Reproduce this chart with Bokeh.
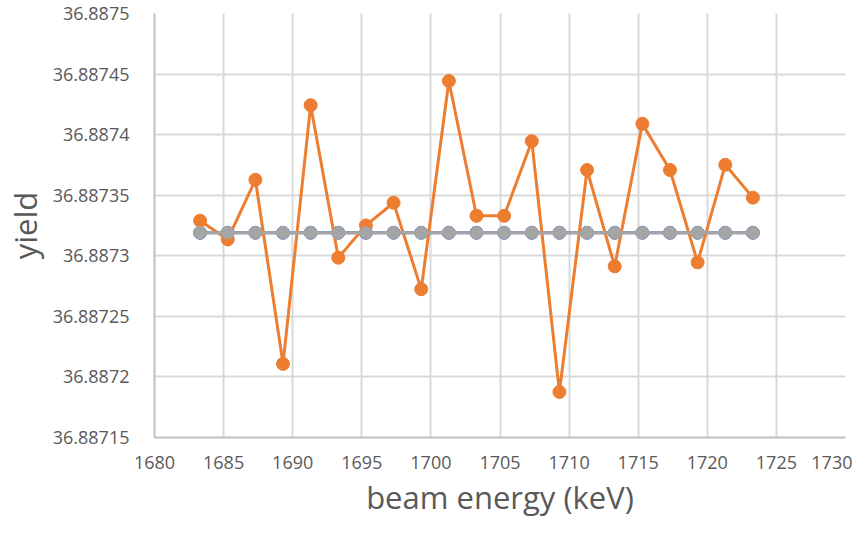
from bokeh.plotting import figure
from bokeh.models import FixedTicker, CustomJSTickFormatter, Range1d
from bokeh.embed import file_html
from bokeh.resources import INLINE

energy = [1683.3, 1685.3, 1687.3, 1689.3, 1691.3, 1693.3, 1695.3, 1697.3, 1699.3, 1701.3,
          1703.3, 1705.3, 1707.3, 1709.3, 1711.3, 1713.3, 1715.3, 1717.3, 1719.3, 1721.3, 1723.3]
yield_measured = [36.887329, 36.8873135, 36.8873627, 36.8872108, 36.8874243, 36.8872984,
                  36.8873251, 36.8873438, 36.8872724, 36.8874443, 36.887333, 36.887333,
                  36.8873946, 36.8871876, 36.8873708, 36.8872913, 36.8874089, 36.8873708,
                  36.8872946, 36.8873751, 36.887348]
yield_model = [36.887319] * len(energy)
yield_fit = [36.887319] * len(energy)
x_ticks = [1680, 1685, 1690, 1695, 1700, 1705, 1710, 1715, 1720, 1725, 1730]
y_ticks = [36.88715, 36.8872, 36.88725, 36.8873, 36.88735, 36.8874, 36.88745, 36.8875]

FONT = "Open Sans"
p = figure(width=852, height=520, output_backend="svg", toolbar_location=None,
           x_range=Range1d(1680, 1730), y_range=Range1d(36.88715, 36.8875),
           min_border_left=153, min_border_top=13, min_border_bottom=82, min_border_right=7)
p.outline_line_color = None

p.xaxis.ticker = FixedTicker(ticks=x_ticks)
p.yaxis.ticker = FixedTicker(ticks=y_ticks)
p.yaxis.formatter = CustomJSTickFormatter(code="return tick.toFixed(5).replace(/0+$/, '');")
p.xaxis.formatter = CustomJSTickFormatter(code="return tick.toFixed(0);")

for ax in (p.xaxis, p.yaxis):
    ax.major_tick_line_color = None
    ax.minor_tick_line_color = None
    ax.axis_line_color = "#BFBFBF"
    ax.axis_line_width = 2
    ax.major_label_text_font = FONT
    ax.major_label_text_font_size = "18px"
    ax.major_label_text_color = "#595959"
    ax.axis_label_text_font = FONT
    ax.axis_label_text_font_size = "31px"
    ax.axis_label_text_color = "#595959"
    ax.axis_label_text_font_style = "normal"

p.xaxis.axis_label = "beam energy (keV)"
p.yaxis.axis_label = "yield"
p.xaxis.major_label_standoff = 12
p.yaxis.major_label_standoff = 19
p.xaxis.axis_label_standoff = 4
p.yaxis.axis_label_standoff = 4

p.xgrid.ticker = FixedTicker(ticks=x_ticks)
p.ygrid.ticker = FixedTicker(ticks=y_ticks)
p.grid.grid_line_color = "#D9D9D9"
p.grid.grid_line_width = 2

# blue series (mostly hidden behind gray)
p.line(energy, yield_fit, line_color="#4472C4", line_width=3)
p.scatter(energy, yield_fit, size=13, fill_color="#4472C4", line_color="#4472C4")
# orange measured
p.line(energy, yield_measured, line_color="#ED7D31", line_width=3)
p.scatter(energy, yield_measured, size=13, fill_color="#ED7D31", line_color="#ED7D31")
# gray model
p.line(energy, yield_model, line_color="#A5A5A5", line_width=3)
p.scatter(energy, yield_model, size=12.5, fill_color="#A5A5A5", line_color="#A5A5A5")

open("out.html", "w").write(file_html(p, INLINE))
